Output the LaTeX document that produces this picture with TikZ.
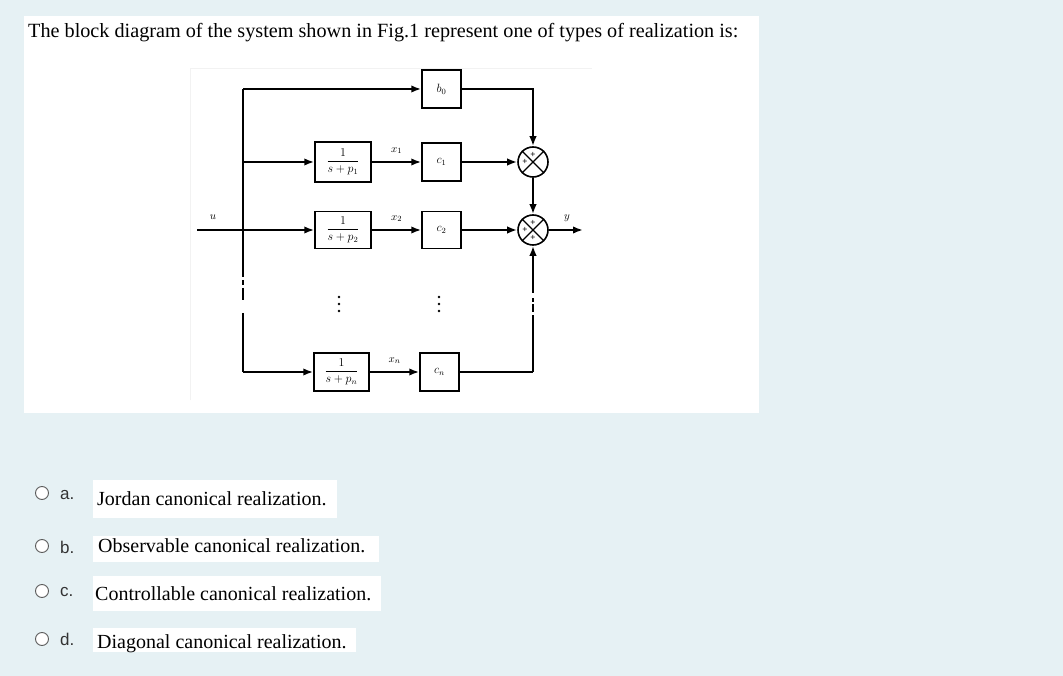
\documentclass[tikz,border=0pt]{standalone}
\usepackage{fontspec}
\setmainfont{Liberation Serif}
\newfontfamily\lsans{Liberation Sans}
\usetikzlibrary{arrows.meta}
\definecolor{bgc}{HTML}{E6F1F4}
\definecolor{lettc}{HTML}{333333}
\definecolor{faint}{HTML}{F2F2F2}
\begin{document}
\begin{tikzpicture}[x=1pt,y=-1pt,
  wire/.style={line width=2.6pt},
  arr/.style={line width=2.6pt,-{Latex[length=10pt,width=7.5pt]}},
  blk/.style={draw,line width=1.5pt,inner sep=0pt,font=\fontsize{12}{13}\selectfont},
  sumj/.style={draw,circle,line width=1.6pt,minimum size=30pt,inner sep=0pt},
  lbl/.style={font=\fontsize{11}{12}\selectfont,inner sep=0pt},
  pls/.style={font=\fontsize{9}{9}\selectfont\bfseries,inner sep=0pt},
  opt/.style={anchor=base west,inner sep=0pt,font=\fontsize{20}{24}\selectfont},
  let/.style={anchor=base west,inner sep=0pt,text=lettc,font=\lsans\fontsize{17}{20}\selectfont},
  radio/.style={draw=lettc!80,line width=0.9pt,fill=white}]
\useasboundingbox (0,0) rectangle (1063,676);
\fill[bgc] (0,0) rectangle (1063,676);
% white panel
\fill[white] (24,16) rectangle (759,413);
\draw[faint,line width=1pt] (190,400) -- (190,69) -- (592,69);
% title
\node[anchor=base west,inner sep=0pt,font=\fontsize{20.2}{24}\selectfont] (title) at (28,38)
  {The block diagram of the system shown in Fig.1 represent one of types of realization is:};

% blocks
\node[blk,minimum width=39pt,minimum height=38pt] (b0) at (441.5,89) {$b_0$};
\node[blk,minimum width=39pt,minimum height=38pt] (c1) at (441.5,162) {$c_1$};
\node[blk,minimum width=39pt,minimum height=37pt] (c2) at (441.5,230) {$c_2$};
\node[blk,minimum width=39pt,minimum height=38pt] (cn) at (439.5,372) {$c_n$};
\node[blk,minimum width=56pt,minimum height=40pt] (B1) at (343,162) {$\displaystyle\frac{1}{s+p_1}$};
\node[blk,minimum width=56pt,minimum height=37pt] (B2) at (343,230) {$\displaystyle\frac{1}{s+p_2}$};
\node[blk,minimum width=55pt,minimum height=38pt] (Bn) at (341.5,372) {$\displaystyle\frac{1}{s+p_n}$};
% summing junctions
\node[sumj] (S1) at (533,162) {};
\node[sumj] (S2) at (533,230) {};
\foreach \s in {S1,S2}{
  \draw[line width=1.1pt] (\s.north east) -- (\s.south west);
  \draw[line width=1.1pt] (\s.north west) -- (\s.south east);
  \node[pls] at ([yshift=7.5pt]\s.center) {+};
  \node[pls] at ([xshift=-8pt]\s.center) {+};
}
\node[pls] at ([yshift=-8pt]S2.center) {+};

% coordinates
\coordinate (L0) at (243,89);
\coordinate (L1) at (243,162);
\coordinate (Ln) at (243,372);
\coordinate (uin) at (197,230);
\coordinate (R0) at (533,89);
\coordinate (Rn) at (533,372);
\coordinate (yout) at (583,230);

% left trunk
\draw[wire,dash pattern=on 188pt off 3pt on 5pt off 3pt on 12pt off 13pt on 60pt] (L0) -- (Ln);
% input
\draw[arr] (uin) -- (B2.west);
\node[lbl] (u) at (213,217) {$u$};
% branches
\draw[arr] (L0) -- (b0.west);
\draw[arr] (L1) -- (B1.west);
\draw[arr] (Ln) -- (Bn.west);
\draw[arr] (B1.east) -- node[lbl,above=7pt] {$x_1$} (c1.west);
\draw[arr] (B2.east) -- node[lbl,above=7pt] {$x_2$} (c2.west);
\draw[arr] (Bn.east) -- node[lbl,above=7pt] {$x_n$} (cn.west);
\draw[arr] (c1.east) -- (S1.west);
\draw[arr] (c2.east) -- (S2.west);
\draw[arr] (b0.east) -- (R0) -- (S1.north);
\draw[arr] (S1.south) -- (S2.north);
\draw[wire] (cn.east) -- (Rn);
\draw[arr,dash pattern=on 57pt off 3pt on 8pt off 2pt on 4pt off 5pt on 60pt] (Rn) -- (S2.south);
\draw[arr] (S2.east) -- (yout);
\node[lbl] (y) at (567,218) {$y$};
% dots
\foreach \x in {339,439}{
  \foreach \yy in {297,304,311}{
    \fill (\x,\yy) circle (1.4pt);
  }
}

% options
\fill[white] (93,480) rectangle (337,518);
\fill[white] (93,536) rectangle (379,562);
\fill[white] (93,576) rectangle (381,611);
\fill[white] (93,628) rectangle (356,652);
\draw[radio] (42,493) circle (6.5pt);
\draw[radio] (42,546) circle (6.5pt);
\draw[radio] (42,591) circle (6.5pt);
\draw[radio] (42,639) circle (6.5pt);
\node[let] (la) at (60,499) {a.};
\node[let] (lb) at (60,553) {b.};
\node[let] (lc) at (60,596) {c.};
\node[let] (ld) at (60,645) {d.};
\node[opt] (oa) at (97,505) {Jordan canonical realization.};
\node[opt] (ob) at (98,552) {Observable canonical realization.};
\node[opt] (oc) at (95,600) {Controllable canonical realization.};
\node[opt] (od) at (97,648) {Diagonal canonical realization.};
\end{tikzpicture}
\end{document}
